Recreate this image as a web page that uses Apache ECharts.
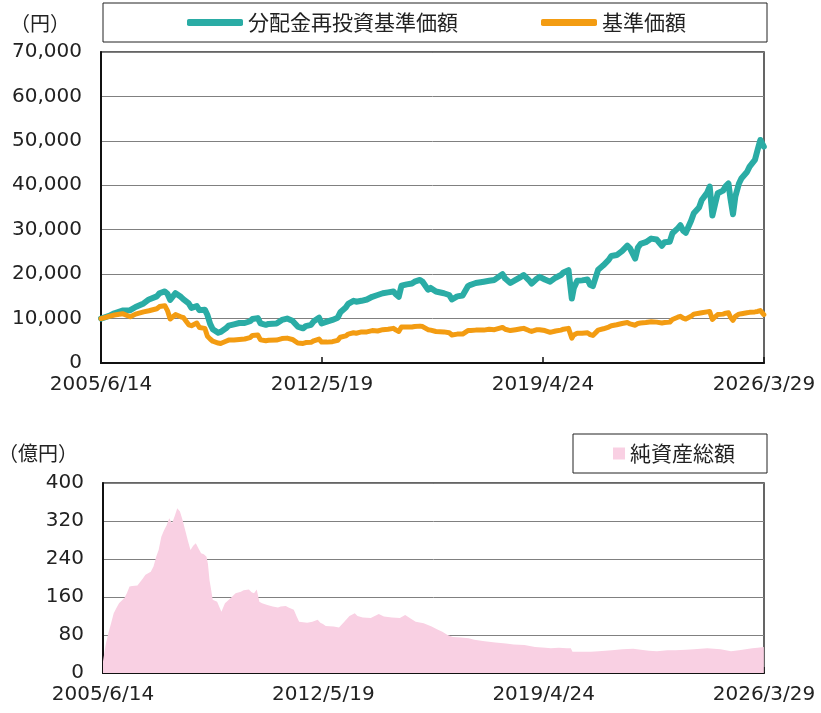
<!DOCTYPE html>
<html><head><meta charset="utf-8">
<script src="https://cdn.jsdelivr.net/npm/echarts@6/dist/echarts.min.js"></script>
<style>html,body{margin:0;padding:0;background:#fff}#c{width:821px;height:713px}</style>
</head><body><div id="c"></div>
<script>
const xTickLabels = ['2005/6/14','2012/5/19','2019/4/24','2026/3/29'];
const navYTicks = [0, 70000, 10000];
const aumYTicks = [0, 400, 80];
const seriesNames = ['分配金再投資基準価額','基準価額','純資産総額'];

const navDates = ['2005/6/14','2005/9','2005/11','2006/2','2006/5','2006/7','2006/10','2006/12','2007/3','2007/4','2007/6','2007/7','2007/8','2007/10','2007/12','2008/1','2008/3','2008/4','2008/6','2008/7','2008/9','2008/10','2008/11','2008/12','2009/2','2009/3','2009/5','2009/6','2009/8','2009/10','2009/12','2010/2','2010/3','2010/5','2010/6','2010/8','2010/9','2010/12','2011/2','2011/4','2011/6','2011/8','2011/10','2011/11','2012/1','2012/2','2012/4','2012/5','2012/7','2012/9','2012/11','2012/12','2013/2','2013/3','2013/5','2013/6','2013/8','2013/10','2013/12','2014/2','2014/4','2014/6','2014/8','2014/9','2014/10','2014/11','2015/1','2015/3','2015/4','2015/6','2015/7','2015/9','2015/10','2015/12','2016/3','2016/5','2016/6','2016/8','2016/10','2016/12','2017/1','2017/3','2017/6','2017/8','2017/10','2018/1','2018/2','2018/4','2018/6','2018/8','2018/9','2018/11','2018/12','2019/2','2019/3','2019/5','2019/7','2019/9','2019/11','2019/12','2020/2/10','2020/3/19','2020/4/10','2020/5/20','2020/7','2020/9','2020/10','2020/11','2021/1','2021/3','2021/5','2021/6','2021/8','2021/10','2021/12','2022/1','2022/3','2022/4','2022/5','2022/7','2022/9','2022/11','2023/1','2023/2','2023/4','2023/5','2023/7','2023/8','2023/9','2023/10','2023/12','2024/1','2024/3','2024/4','2024/6','2024/7','2024/8','2024/9','2024/10','2024/12','2025/1','2025/2','2025/3/10','2025/4/8','2025/5/5','2025/6','2025/7','2025/9','2025/10','2025/12','2026/1','2026/2','2026/3/27'];

const navReinvest = [10000,10600,11200,11800,11900,12600,13400,14300,15000,15700,16100,15600,14200,15700,14900,14300,13400,12400,12800,11900,12000,10800,8800,7600,6800,7000,7800,8400,8700,9000,9000,9400,9900,10100,8900,8600,8800,8900,9700,10000,9500,8200,7800,8300,8600,9400,10200,8900,9300,9700,10200,11400,12500,13300,14000,13800,14000,14300,14900,15300,15700,15900,16100,15400,14900,17400,17700,17900,18300,18700,18300,16500,16900,16100,15700,15300,14300,15000,15200,17300,17600,18000,18300,18500,18700,20000,19000,18000,18700,19400,19800,18600,17900,19000,19400,18800,18300,19200,19800,20400,20900,14500,16800,18500,18600,18800,17600,17300,21000,22000,23200,24100,24300,25200,26400,25800,23500,26000,26800,27200,28000,27800,26400,27200,27300,29200,30300,31000,29800,29300,32000,33700,35000,36700,38300,39700,33200,35800,38200,38800,39800,40400,37000,33500,37500,40400,41600,43000,44200,45700,48000,50200,48700];

const navBase = [10000,10500,10800,11100,10400,11000,11500,11750,12200,12700,12900,11800,9900,10900,10400,10200,8600,8400,9000,8000,7800,6000,5400,4900,4500,4400,4900,5150,5200,5300,5400,5700,6200,6300,5200,5000,5100,5150,5500,5600,5300,4500,4400,4600,4650,5000,5400,4700,4700,4800,5100,5800,6100,6500,6800,6700,7000,7000,7300,7200,7500,7600,7800,7400,7100,8100,8100,8100,8200,8300,8200,7500,7400,7100,7000,6800,6300,6500,6500,7300,7300,7400,7400,7600,7500,8000,7600,7300,7500,7700,7800,7300,7100,7500,7500,7300,6900,7200,7400,7600,7800,5600,6300,6700,6700,6800,6400,6200,7400,7700,8100,8400,8600,8900,9100,8800,8500,8900,9000,9100,9300,9200,9000,9100,9200,9800,10300,10500,10100,9900,10500,11000,11200,11300,11500,11600,9800,10400,10900,11000,11200,11300,10300,9600,10500,11000,11100,11300,11400,11500,11600,11800,10900];

const aumDates = ['2005/6/14','2005/7','2005/8','2005/9','2005/10','2005/11','2005/12','2006/2','2006/3','2006/4','2006/5','2006/7','2006/9','2006/10','2006/12','2007/1','2007/2','2007/3','2007/4','2007/5','2007/6','2007/7','2007/8','2007/9','2007/10','2007/11','2007/12','2008/1','2008/2','2008/3','2008/4','2008/5','2008/6','2008/7','2008/8','2008/9/15','2008/10/1','2008/10/20','2008/11/5','2008/11/25','2009/1','2009/1/28','2009/3/5','2009/4','2009/6','2009/8','2009/10','2009/11','2010/1','2010/2','2010/3','2010/4','2010/4/28','2010/5','2010/6','2010/8','2010/10','2010/12','2011/1','2011/3','2011/4','2011/6','2011/7','2011/8','2011/11','2012/1','2012/3','2012/4','2012/5','2012/6','2012/9','2012/11','2013/1','2013/3','2013/5','2013/6','2013/8','2013/11','2014/2','2014/4','2014/7','2014/10','2014/12','2015/2','2015/4','2015/6','2015/7','2015/10','2015/12','2016/2','2016/4','2016/6','2016/9','2016/12','2017/2','2017/6','2017/10','2018/2','2018/5','2018/9','2019/1','2019/5','2019/7','2019/10','2020/1','2020/3/1','2020/3/20','2020/6','2020/10','2021/1','2021/6','2021/10','2022/2','2022/5','2022/8','2022/11','2023/3','2023/6','2023/10','2024/1','2024/6','2024/11','2025/3','2025/6','2025/11','2026/1','2026/3/27'];

const aum = [25,60,84,105,126,137,147,158,168,182,183,184,199,207,213,224,245,259,287,300,311,326,315,330,347,340,322,300,278,259,268,273,262,252,250,245,230,195,178,154,150,147,129,147,157,168,171,174,176,170,168,176,173,150,147,143,140,138,140,141,138,133,120,108,106,108,112,106,103,99,98,96,108,120,126,120,117,116,124,119,117,116,122,115,108,106,105,98,92,87,80,76,75,73,70,67,64,62,60,59,55,53,52,53,52,52,45,45,45,46,48,50,51,49,47,46,48,48,49,50,52,50,46,48,52,53,55];

const T0 = (function(){const p = xTickLabels[0].split('/').map(Number); return Date.UTC(p[0],p[1]-1,p[2]);})();
function toDay(s){
  const p = s.split('/').map(Number);
  return Math.round((Date.UTC(p[0], p[1]-1, p[2] || 15) - T0) / 86400000);
}
const step = toDay(xTickLabels[1]) - toDay(xTickLabels[0]);
const xMax = toDay(xTickLabels[xTickLabels.length-1]);
function pairs(dates, vals){
  const n = Math.min(dates.length, vals.length);
  const out = [];
  for (let i=0;i<n;i++) out.push([toDay(dates[i]), vals[i]]);
  return out;
}

const CJK = '"Noto Sans CJK JP", "Noto Sans", sans-serif';
const NUM = '"DejaVu Sans", sans-serif';
const TEAL = '#2aaca5', ORANGE = '#f39c12', PINK = '#f9d0e3';

function xAxisCfg(gi){
  return {
    type:'value', gridIndex:gi, min:0, max:xMax, interval:step,
    axisLine:{show:true, onZero:false, lineStyle:{color:'#111', width:2}},
    axisTick:{show:true, inside:true, length:6, lineStyle:{color:'#111', width:1.5}},
    splitLine:{show:false},
    axisLabel:{formatter:v => xTickLabels[Math.round(v/step)] || '', fontSize:20, color:'#222', margin:12, fontFamily:NUM}
  };
}
function yAxisCfg(gi, t){
  return {
    type:'value', gridIndex:gi, min:t[0], max:t[1], interval:t[2],
    axisLine:{show:true, lineStyle:{color:'#111', width:2}},
    axisTick:{show:false},
    splitLine:{show:true, lineStyle:{color:'#808080', width:1}},
    axisLabel:{formatter:v => v.toLocaleString('en-US'), fontSize:20, color:'#222', margin:19, fontFamily:NUM}
  };
}

const chart = echarts.init(document.getElementById('c'), null, {renderer:'canvas'});
chart.setOption({
  animation:false,
  backgroundColor:'#fff',
  grid:[
    {left:101, right:57, top:52, height:311, show:true, borderColor:'#333', borderWidth:1.5, backgroundColor:'transparent'},
    {left:103, right:57, top:483, height:190, show:true, borderColor:'#333', borderWidth:1.5, backgroundColor:'transparent'}
  ],
  xAxis:[xAxisCfg(0), xAxisCfg(1)],
  yAxis:[yAxisCfg(0, navYTicks), yAxisCfg(1, aumYTicks)],
  legend:[
    {data:[seriesNames[0], seriesNames[1]], left:187, top:12, itemWidth:56, itemHeight:7, itemGap:83, icon:'roundRect', padding:0,
     textStyle:{fontSize:21, color:'#222', fontFamily:CJK}},
    {data:[seriesNames[2]], left:613, top:443, itemWidth:12, itemHeight:12, icon:'rect', padding:0,
     textStyle:{fontSize:21, color:'#222', fontFamily:CJK}}
  ],
  graphic:[
    {type:'rect', shape:{x:103, y:3, width:664, height:39}, style:{fill:'none', stroke:'#222', lineWidth:1}, silent:true},
    {type:'rect', shape:{x:573, y:434, width:194, height:39}, style:{fill:'none', stroke:'#222', lineWidth:1}, silent:true},
    {type:'text', x:10, y:13, style:{text:'（円）', font:'20px ' + CJK, fill:'#222'}},
    {type:'text', x:-2, y:443, style:{text:'（億円）', font:'20px ' + CJK, fill:'#222'}}
  ],
  series:[
    {type:'line', name:seriesNames[0], xAxisIndex:0, yAxisIndex:0, data:pairs(navDates, navReinvest),
     symbol:'none', showSymbol:false, lineStyle:{color:TEAL, width:6, join:'round', cap:'round'}, itemStyle:{color:TEAL}, z:3},
    {type:'line', name:seriesNames[1], xAxisIndex:0, yAxisIndex:0, data:pairs(navDates, navBase),
     symbol:'none', showSymbol:false, lineStyle:{color:ORANGE, width:5, join:'round', cap:'round'}, itemStyle:{color:ORANGE}, z:4},
    {type:'line', name:seriesNames[2], xAxisIndex:1, yAxisIndex:1, data:pairs(aumDates, aum),
     symbol:'none', showSymbol:false, lineStyle:{width:0, color:PINK}, itemStyle:{color:PINK},
     areaStyle:{color:PINK, opacity:1}, z:1}
  ]
});
</script></body></html>
